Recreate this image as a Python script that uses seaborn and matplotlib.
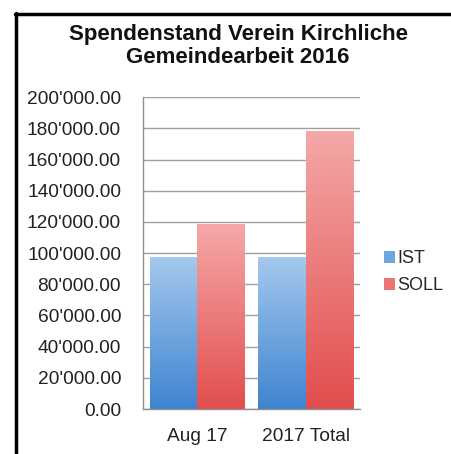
import numpy as np
import pandas as pd
import seaborn as sns
import matplotlib.pyplot as plt
from matplotlib.colors import LinearSegmentedColormap
from matplotlib.patches import Patch
from matplotlib.lines import Line2D
from matplotlib.ticker import FuncFormatter, FixedLocator

# Daten
kategorien = ["Aug 17", "2017 Total"]
ist = [97500, 97500]
soll = [118500, 178000]
serien = ["IST", "SOLL"]

df = pd.DataFrame({
    "Kategorie": kategorien * 2,
    "Serie": ["IST"] * len(kategorien) + ["SOLL"] * len(kategorien),
    "Betrag": ist + soll,
})

sns.set_style("white")
plt.rcParams["font.family"] = ["Liberation Sans", "DejaVu Sans"]

fig = plt.figure(figsize=(4.51, 4.54), dpi=100)
ax = fig.add_axes([0.317, 0.099, 0.481, 0.687])

farben = {"IST": "#6fa6e0", "SOLL": "#ec7474"}
sns.barplot(data=df, x="Kategorie", y="Betrag", hue="Serie", palette=farben,
            width=0.87, ax=ax, legend=False, errorbar=None)

# Farbverlauf in den Balken
verlauf = {
    "IST": LinearSegmentedColormap.from_list("ist", ["#3d84d0", "#a6c9ee"]),
    "SOLL": LinearSegmentedColormap.from_list("soll", ["#e24e4d", "#f5a8a8"]),
}
grad = np.linspace(0, 1, 256).reshape(-1, 1)
for i, p in enumerate(ax.patches[:4]):
    serie = serien[i // len(kategorien)]
    x0, y0 = p.get_x(), p.get_y()
    x1, y1 = x0 + p.get_width(), y0 + p.get_height()
    im = ax.imshow(grad, extent=[x0, x1, y0, y1], origin="lower", aspect="auto",
                   cmap=verlauf[serie], zorder=2)
    im.set_clip_path(p)
    p.set_facecolor("none")
    p.set_edgecolor("none")

ax.set_xlim(-0.5, 1.5)
ax.set_ylim(0, 200000)
ax.set_yticks(np.arange(0, 200001, 20000))
ax.yaxis.set_major_formatter(FuncFormatter(lambda v, _: f"{v:,.2f}".replace(",", "'")))
ax.yaxis.grid(True, color="#a0a0a0", linewidth=1)
ax.set_axisbelow(True)
ax.set_xlabel("")
ax.set_ylabel("")

for s in ["top", "right"]:
    ax.spines[s].set_visible(False)
for s in ["left", "bottom"]:
    ax.spines[s].set_color("#909090")
    ax.spines[s].set_linewidth(1)

ax.tick_params(axis="y", length=5, width=1, color="#909090", pad=10.8,
               labelsize=13.8, labelcolor="#222222")
ax.tick_params(axis="x", which="major", length=0, pad=14,
               labelsize=13.8, labelcolor="#222222")
ax.xaxis.set_minor_locator(FixedLocator([-0.5, 0.5, 1.5]))
ax.tick_params(axis="x", which="minor", length=5, width=1, color="#909090")

handles = [Patch(facecolor=farben[s], edgecolor="none", label=s) for s in serien]
fig.legend(handles=handles, loc="center left", bbox_to_anchor=(0.851, 0.40),
           frameon=False, fontsize=13, handlelength=0.6, handleheight=0.6,
           handletextpad=0.15, labelspacing=0.55, borderpad=0, borderaxespad=0)

fig.text(0.528, 0.912, "Spendenstand Verein Kirchliche", ha="center", va="baseline",
         fontsize=16, fontweight="bold", color="#111111")
fig.text(0.528, 0.861, "Gemeindearbeit 2016", ha="center", va="baseline",
         fontsize=16, fontweight="bold", color="#111111")

# Rahmen oben und links
fig.add_artist(Line2D([0.036, 0.036], [0, 0.972], transform=fig.transFigure,
                      color="black", linewidth=2.5))
fig.add_artist(Line2D([0.033, 1.0], [0.970, 0.970], transform=fig.transFigure,
                      color="black", linewidth=2.5))

fig.savefig("out.png", dpi=100)
